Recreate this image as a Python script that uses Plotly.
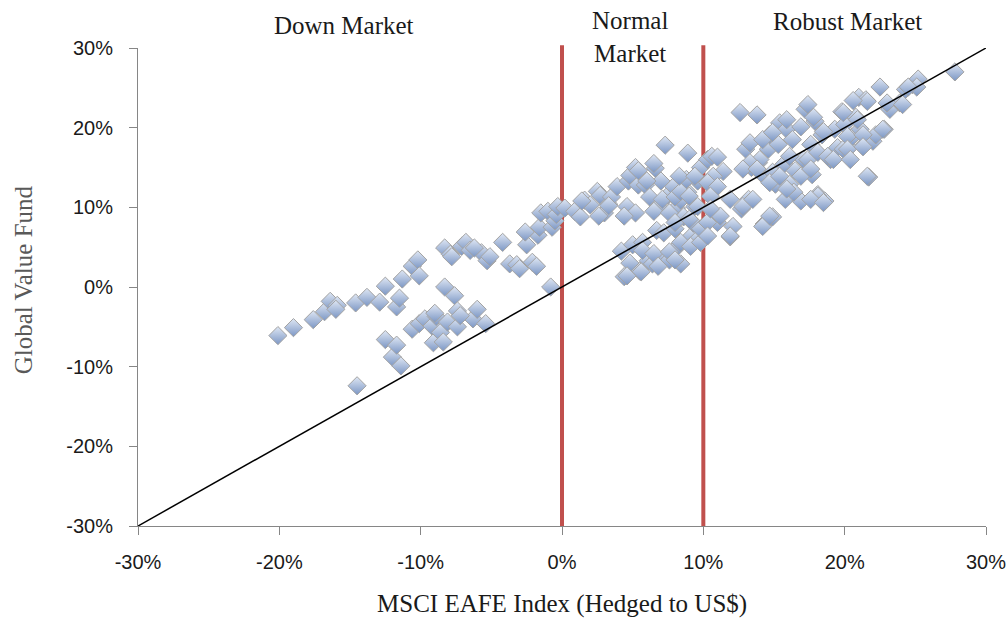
import plotly.graph_objects as go

# MSCI EAFE (hedged) returns, % (x) vs Global Value Fund returns, % (y)
eafe = [
    # down market
    -20.1, -19.0, -17.6, -16.8, -16.4, -15.9, -14.6, -14.5, -13.8, -12.5, -12.5, -12.0, -11.7, -11.7,
    -11.5, -11.4, -11.3, -10.6, -10.6, -10.2, -10.1, -10.1, -9.7, -9.2, -9.1, -8.9, -8.6, -8.4, -8.3,
    -8.3, -8.1, -7.9, -7.8, -7.6, -7.4, -7.4, -7.1, -6.8, -6.5, -6.3, -6.0, -5.7, -5.4, -5.3, -5.1,
    -4.2, -3.7, -3.2, -3.0, -2.5, -2.1, -1.8, -1.7, -1.6, -1.5, -1.0, -0.7, -0.5, -0.8, -0.4, -0.3,
    -16.0, -12.9, -9.0, -7.2, -6.2, -2.6,
    # normal market
    0.2, 0.9, 1.3, 1.6, 2.0, 2.5, 2.7, 3.0, 3.3, 3.5, 3.9, 4.2, 4.4, 4.6, 4.7, 4.8, 5.0, 5.2, 5.2,
    5.4, 5.5, 5.7, 5.9, 6.1, 6.2, 6.4, 6.6, 6.7, 6.8, 7.0, 7.2, 7.3, 7.3, 7.5, 7.6, 7.9, 8.0, 8.1,
    8.2, 8.4, 8.4, 8.6, 8.9, 8.9, 9.1, 9.3, 9.4, 9.6, 9.6, 9.8,
    5.7, 4.8, 6.5, 7.6, 8.4, 9.1, 9.8, 5.6, 6.8, 8.0, 4.6,
    7.1, 8.0, 8.4, 9.0, 9.6, 1.4, 3.3, 2.6, 4.4, 6.5, 7.6, 8.0, 9.0, 9.8, 8.8, 8.3, 9.4, 6.5,
    5.4, 6.0,
    # robust market
    10.3, 10.6, 11.0, 12.6, 13.8, 13.0, 12.1, 11.9, 12.7, 13.2, 13.4, 13.9, 14.2, 14.3, 14.6, 14.7,
    14.9, 15.1, 15.3, 15.4, 15.7, 15.8, 15.9, 16.1, 16.3, 16.5, 16.9, 17.1, 17.2, 17.4, 17.6, 17.7,
    17.9, 18.1, 18.4, 18.6, 19.0, 19.3, 19.5, 19.8, 20.0, 20.3, 20.5, 20.8, 21.0, 21.1, 21.4, 21.5,
    21.7, 22.0, 22.2, 22.5, 22.8, 23.2, 23.9, 24.3, 24.8, 25.2, 27.8,
    13.3, 14.2, 16.1, 14.0, 13.3, 12.8, 13.8, 14.9, 17.4, 18.1, 18.8, 19.2, 19.9, 11.4, 10.7, 10.3,
    11.0, 10.5, 11.9, 12.8, 13.5, 14.7, 15.4, 16.4, 16.9, 17.6, 18.1, 15.9, 17.6, 18.5, 14.2, 14.7,
    11.0, 10.3, 11.9, 11.2, 10.5, 10.3, 17.8, 15.9, 19.9, 14.9, 16.9, 18.5, 20.2, 25.1, 24.5, 21.6,
    23.0, 24.1, 20.9, 22.7, 21.3, 20.2, 21.3, 20.4, 21.6, 20.6,
]
fund = [
    # down market
    -6.1, -5.1, -4.1, -3.1, -1.8, -2.3, -2.0, -12.4, -1.3, 0.1, -6.6, -8.8, -7.3, -2.5,
    -1.4, -9.9, 1.0, 2.6, -5.3, 3.4, -4.6, 1.4, -4.0, -4.9, -7.0, -3.7, -5.7, -6.9, 4.9,
    0.0, -4.4, 4.1, 3.8, -1.1, -3.0, -5.0, 5.1, 5.6, 4.6, -4.0, -2.8, 4.3, -4.6, 3.3, 3.8,
    5.6, 2.9, 2.8, 2.3, 5.3, 3.1, 2.6, 6.5, 7.5, 9.3, 9.5, 7.5, 8.3, 0.0, 9.1, 10.1,
    -2.8, -1.9, -3.3, -3.6, 4.9, 6.9,
    # normal market
    9.9, 9.5, 8.8, 10.9, 10.3, 12.0, 11.5, 9.3, 10.4, 11.3, 12.6, 4.5, 1.3, 10.1, 13.3, 14.0, 5.3, 15.0, 9.3,
    12.8, 2.0, 5.6, 12.8, 3.3, 11.3, 2.9, 14.9, 7.1, 10.1, 13.3, 6.8, 17.8, 3.8, 11.5, 3.4, 12.6, 7.3, 9.9,
    5.1, 10.9, 2.9, 8.8, 16.8, 11.9, 6.3, 8.0, 10.1, 13.3, 6.0, 15.0,
    4.6, 3.0, 4.2, 4.4, 5.6, 5.1, 5.6, 1.9, 2.6, 3.4, 1.4,
    11.0, 11.3, 12.0, 11.4, 10.1, 10.8, 10.2, 8.9, 8.9, 9.5, 9.3, 8.1, 8.5, 7.3, 13.5, 13.9, 13.9, 15.5,
    14.6, 13.3,
    # robust market
    16.0, 16.4, 16.3, 21.9, 21.6, 17.3, 7.6, 6.3, 9.8, 11.0, 15.0, 15.6, 14.1, 7.9, 17.3, 19.1,
    8.8, 12.9, 17.9, 20.6, 15.4, 11.0, 19.8, 12.9, 18.5, 14.6, 10.8, 16.0, 22.3, 22.9, 17.9, 14.1,
    20.8, 11.6, 19.1, 10.8, 16.0, 19.8, 17.5, 22.0, 20.4, 17.5, 18.8, 21.3, 23.8, 19.8, 17.9, 23.5,
    13.8, 18.3, 19.1, 25.1, 19.8, 22.3, 23.1, 24.8, 25.4, 26.1, 27.0,
    18.1, 18.5, 16.4, 16.0, 15.6, 14.8, 14.8, 14.4, 16.0, 16.9, 16.4, 16.0, 17.3, 14.5, 13.9, 13.1,
    12.6, 11.4, 11.0, 10.1, 11.0, 13.1, 13.9, 11.9, 13.9, 14.8, 11.4, 12.3, 11.0, 10.6, 7.6, 8.9,
    8.1, 8.1, 6.4, 8.9, 9.8, 6.4, 21.3, 21.0, 21.9, 19.4, 20.1, 19.5, 18.9, 25.1, 25.1, 23.3,
    23.1, 22.9, 21.0, 19.8, 19.1, 17.3, 17.6, 16.0, 13.9, 23.4,
]

axis_ticks = [-30, -20, -10, 0, 10, 20, 30]
axis_tick_text = ["-30%", "-20%", "-10%", "0%", "10%", "20%", "30%"]
reference_line = [-30, 30]
regime_bounds = [0, 10]
regime_labels = ["Down Market", "Normal<br>Market", "Robust Market"]
regime_label_x = [-15.4, 4.8, 20.2]
regime_label_y = [1.048, 1.023, 1.056]

fig = go.Figure()

fig.add_trace(go.Scatter(
    x=eafe, y=fund, mode="markers",
    marker=dict(symbol="diamond", size=14, color="#dfe7f4",
                gradient=dict(type="vertical", color="#7b96c4"),
                line=dict(color="#a3a3a3", width=1)),
    hoverinfo="x+y", showlegend=False,
))

fig.add_trace(go.Scatter(
    x=reference_line, y=reference_line, mode="lines",
    line=dict(color="#000000", width=1.5), hoverinfo="skip", showlegend=False,
))

for b in regime_bounds:
    fig.add_shape(type="line", xref="x", yref="paper", x0=b, x1=b, y0=0, y1=1.006,
                  line=dict(color="#c0504d", width=4), layer="below")

for lbl, lx, ly in zip(regime_labels, regime_label_x, regime_label_y):
    fig.add_annotation(text=lbl, x=lx, y=ly, xref="x", yref="paper", showarrow=False,
                       xanchor="center", yanchor="middle",
                       font=dict(family="Liberation Serif", size=25, color="#1a1a1a"))

fig.add_annotation(text="MSCI EAFE Index (Hedged to US$)", x=0.5, y=-0.163, xref="paper", yref="paper",
                   showarrow=False, xanchor="center", yanchor="middle",
                   font=dict(family="Liberation Serif", size=25, color="#1a1a1a"))
fig.add_annotation(text="Global Value Fund", x=-0.135, y=0.515, xref="paper", yref="paper",
                   showarrow=False, textangle=-90, xanchor="center", yanchor="middle",
                   font=dict(family="Liberation Serif", size=25, color="#595959"))

axis_common = dict(
    range=[-30, 30], tickmode="array", tickvals=axis_ticks, ticktext=axis_tick_text,
    showgrid=False, zeroline=False, showline=True, linecolor="#868686", linewidth=1,
    ticks="outside", ticklen=8, tickcolor="#868686", tickwidth=1,
    tickfont=dict(family="Liberation Sans", size=20, color="#1a1a1a"),
    ticklabeloverflow="allow", automargin=False,
)

fig.update_layout(
    width=1008, height=623, autosize=False,
    margin=dict(l=138, r=22, t=48, b=97, autoexpand=False),
    paper_bgcolor="white", plot_bgcolor="white",
    xaxis=dict(**axis_common, ticklabelstandoff=10),
    yaxis=dict(**axis_common, ticklabelstandoff=12),
)

fig.write_html("out.html", config={"displayModeBar": False},
               post_script="document.body.style.margin='0';document.body.style.overflow='hidden';")
